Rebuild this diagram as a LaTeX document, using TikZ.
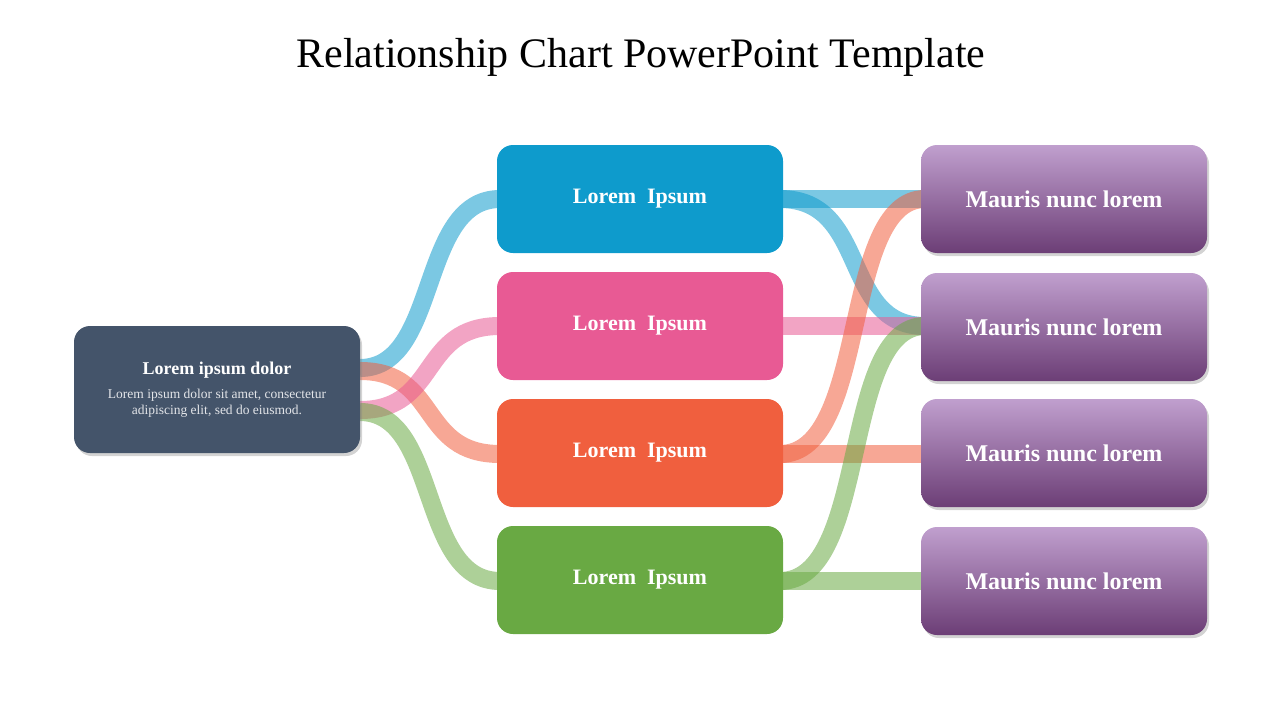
\documentclass[tikz,border=0pt]{standalone}
\usepackage{fontspec}
\setmainfont{Liberation Serif}
\usetikzlibrary{shadows}
\definecolor{cblue}{HTML}{0E9BCC}
\definecolor{cpink}{HTML}{E85A94}
\definecolor{corange}{HTML}{F05F3E}
\definecolor{cgreen}{HTML}{69A943}
\definecolor{cslate}{HTML}{44546A}
\definecolor{ptop}{HTML}{C09FCE}
\definecolor{pbot}{HTML}{6C3E76}
\tikzset{
  box/.style={rounded corners=16pt, minimum width=286pt, minimum height=108pt, inner sep=0pt, text=white, font=\fontsize{22}{26}\selectfont\bfseries},
  pbox/.style={box, top color=ptop, bottom color=pbot, drop shadow={shadow xshift=2pt, shadow yshift=-3pt, opacity=0.35}},
  band/.style={line width=18pt, opacity=0.55},
}
\begin{document}
\begin{tikzpicture}[x=1pt,y=-1pt]
\useasboundingbox (0,0) rectangle (1280,720);
\node[font=\fontsize{42}{48}\selectfont] (title) at (641,57) {Relationship Chart PowerPoint Template};
% connectors (behind boxes)
\coordinate (lb) at (360,368); \coordinate (lo) at (360,371);
\coordinate (lp) at (360,410); \coordinate (lg) at (360,412);
\draw[band,cblue] (lb) .. controls (440,368) and (418,199) .. (500,199);
\draw[band,corange] (lo) .. controls (440,371) and (418,454) .. (500,454);
\draw[band,cpink] (lp) .. controls (440,410) and (418,326) .. (500,326);
\draw[band,cgreen] (lg) .. controls (440,412) and (418,581) .. (500,581);
\draw[band,cblue] (780,199) -- (925,199);
\draw[band,cblue] (780,199) .. controls (870,199) and (840,326) .. (925,326);
\draw[band,cpink] (780,326) -- (925,326);
\draw[band,corange] (780,454) -- (925,454);
\draw[band,corange] (780,454) .. controls (870,454) and (840,199) .. (925,199);
\draw[band,cgreen] (780,581) -- (925,581);
\draw[band,cgreen] (780,581) .. controls (870,581) and (840,326) .. (925,326);
% left box
\node[box, fill=cslate, minimum height=127pt, drop shadow={shadow xshift=2pt, shadow yshift=-3pt, opacity=0.35}] (L) at (217,389.5) {};
\node[text=white, font=\fontsize{18}{20}\selectfont\bfseries] (Lt) at (217,370) {Lorem ipsum dolor};
\node[text=white!85!cslate, align=center, font=\fontsize{13.5}{16}\selectfont] (Ld) at (217,403) {Lorem ipsum dolor sit amet, consectetur\\adipiscing elit, sed do eiusmod.};
% middle boxes
\node[box, fill=cblue] (m1) at (640,199) {Lorem\ \ Ipsum};
\node[box, fill=cpink] (m2) at (640,326) {Lorem\ \ Ipsum};
\node[box, fill=corange] (m3) at (640,453) {Lorem\ \ Ipsum};
\node[box, fill=cgreen] (m4) at (640,580) {Lorem\ \ Ipsum};
% right boxes
\node[pbox, font=\fontsize{24}{28}\selectfont\bfseries] (r1) at (1064,199) {Mauris nunc lorem};
\node[pbox, font=\fontsize{24}{28}\selectfont\bfseries] (r2) at (1064,327) {Mauris nunc lorem};
\node[pbox, font=\fontsize{24}{28}\selectfont\bfseries] (r3) at (1064,453) {Mauris nunc lorem};
\node[pbox, font=\fontsize{24}{28}\selectfont\bfseries] (r4) at (1064,581) {Mauris nunc lorem};
\end{tikzpicture}
\end{document}
